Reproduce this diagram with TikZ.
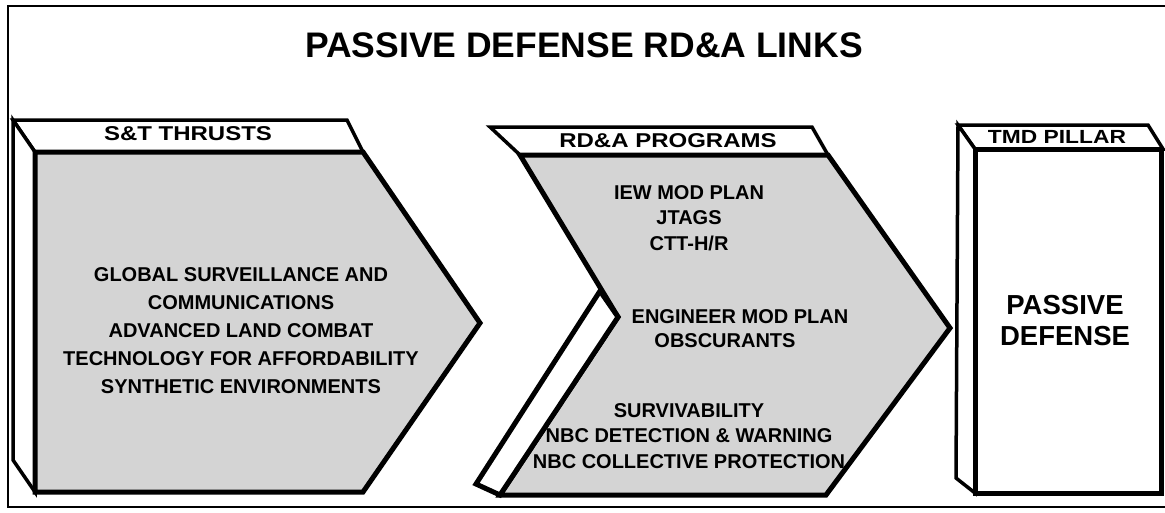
\documentclass[tikz,border=0pt]{standalone}
\usepackage{fontspec}
\usepackage{graphicx}
\setmainfont{Liberation Sans}
\begin{document}
\begin{tikzpicture}[x=1pt,y=-1pt,
  frame/.style={line width=2pt},
  thinedge/.style={line width=3.5pt, line join=miter, fill=white},
  thickedge/.style={line width=5pt, line join=miter},
  greyface/.style={thickedge, fill=black!17},
  whiteface/.style={thickedge, fill=white},
  body/.style={font=\bfseries\fontsize{20}{25.5}\selectfont, align=center, inner sep=0pt},
  head/.style={font=\bfseries\fontsize{20}{24}\selectfont, inner sep=0pt}]
\useasboundingbox (0,0) rectangle (1165,512);
\fill[white] (0,0) rectangle (1165,512);
% frame
\draw[frame] (1170,6) -- (8,6) -- (8,507) -- (1170,507);
\node[font=\bfseries\fontsize{35.5}{42}\selectfont, inner sep=0pt] (title) at (584,45) {PASSIVE DEFENSE RD\&A LINKS};

% Block 1 : S&T thrusts
\draw[thinedge] (13,120) -- (347,120) -- (363,152) -- (35,152) -- cycle;
\draw[thinedge] (13,120) -- (35,152) -- (35,492) -- (13,460) -- cycle;
\draw[greyface] (35,152) -- (363,152) -- (480,323) -- (363,492) -- (35,492) -- cycle;
\node[head] (h1) at (188,134) {\scalebox{1.2}[1]{S\&T THRUSTS}};
\node[body, font=\bfseries\fontsize{20}{28}\selectfont] (t1) at (241,331) {GLOBAL SURVEILLANCE AND\\COMMUNICATIONS\\ADVANCED LAND COMBAT\\TECHNOLOGY FOR AFFORDABILITY\\SYNTHETIC ENVIRONMENTS};

% Block 2 : RD&A programs
\draw[thinedge] (490,127) -- (812,127) -- (828,155) -- (520,155) -- cycle;
\draw[greyface] (520,155) -- (828,155) -- (950,328) -- (826,495) -- (500,495) -- (618,317) -- cycle;
\draw[whiteface] (600,291) -- (618,317) -- (500,495) -- (476,484) -- cycle;
\node[head] (h2) at (668,141) {\scalebox{1.2}[1]{RD\&A PROGRAMS}};
\node[body] (t2a) at (689,218) {IEW MOD PLAN\\JTAGS\\CTT-H/R};
\node[body] (t2b) at (740,317) {ENGINEER MOD PLAN};
\node[body] (t2c) at (725,341) {OBSCURANTS};
\node[body] (t2d) at (689,436) {SURVIVABILITY\\NBC DETECTION \& WARNING\\NBC COLLECTIVE PROTECTION};

% Block 3 : TMD pillar
\draw[thinedge] (958,125) -- (1148,125) -- (1163,149) -- (975,149) -- cycle;
\draw[thinedge] (958,125) -- (975,149) -- (975,493) -- (956,478) -- cycle;
\draw[whiteface] (975,149) -- (1161,149) -- (1161,493) -- (975,493) -- cycle;
\node[head, font=\bfseries\fontsize{19}{23}\selectfont] (h3) at (1057,137) {\scalebox{1.2}[1]{TMD PILLAR}};
\node[body, font=\bfseries\fontsize{27.5}{31}\selectfont] (t3) at (1065,321) {PASSIVE\\DEFENSE};
\end{tikzpicture}
\end{document}
